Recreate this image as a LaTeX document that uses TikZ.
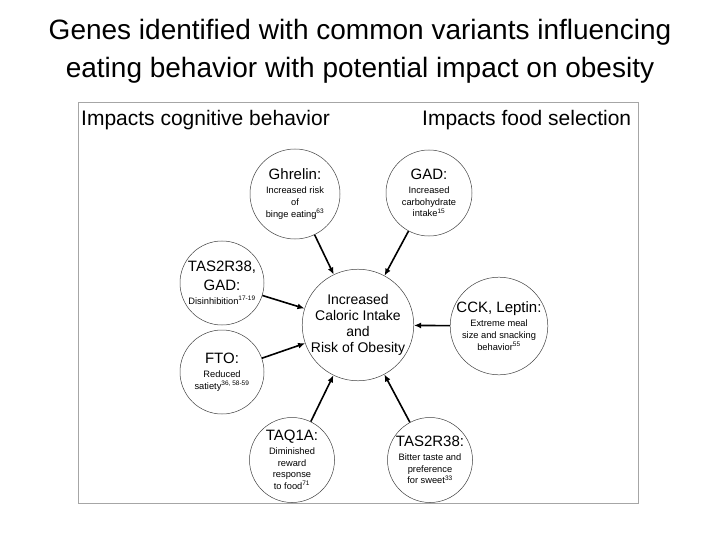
\documentclass[tikz,border=0pt]{standalone}
\usepackage{fontspec}
\setmainfont{Liberation Sans}
\usepackage{tikz}
\usetikzlibrary{arrows.meta}
\tikzset{
  genebox/.style={circle, draw=black!75, line width=0.5pt, inner sep=0pt, align=center,
    minimum size=88pt, font=\fontsize{9.3}{11.8}\selectfont},
  riskbox/.style={genebox, minimum size=110pt, font=\fontsize{14}{15.8}\selectfont},
  genearrow/.style={-{Latex[length=7pt,width=6pt]}, line width=1.6pt},
  headlabel/.style={anchor=west, inner sep=0pt, font=\fontsize{21}{25}\selectfont},
}
\newcommand{\genename}[1]{{\fontsize{15}{17}\selectfont #1}\\[2pt]}

\begin{document}
\begin{tikzpicture}[x=1pt, y=-1pt]
  \useasboundingbox (0,0) rectangle (720,540);
  \node[align=center, font=\fontsize{28}{38}\selectfont] (title) at (360,51)
    {Genes identified with common variants influencing\\eating behavior with potential impact on obesity};
  % frame and headers
  \draw[black!35, line width=1pt] (78,103) rectangle (638,503);
  \node[headlabel] (hcog) at (81,120) {Impacts cognitive behavior};
  \node[headlabel] (hfood) at (422,120) {Impacts food selection};
  % circles
  \node[riskbox] (risk) at (358,325) {Increased\\Caloric Intake\\and\\Risk of Obesity};
  \node[genebox, minimum size=90pt] (ghrelin) at (295,194)
    {\genename{Ghrelin:}Increased risk\\of\\binge eating\textsuperscript{63}};
  \node[genebox, minimum size=86pt] (gad) at (429,193)
    {\genename{GAD:}Increased\\carbohydrate\\intake\textsuperscript{15}};
  \node[genebox, minimum size=84pt] (tasgad) at (222,283)
    {{\fontsize{15}{17}\selectfont TAS2R38,}\\[6pt]\genename{GAD:}Disinhibition\textsuperscript{17-19}};
  \node[genebox, minimum size=84pt] (fto) at (222,372)
    {\genename{FTO:}Reduced\\satiety\textsuperscript{36, 58-59}};
  \node[genebox, minimum size=85pt] (taq) at (292,460)
    {\genename{TAQ1A:}Diminished\\reward\\response\\to food\textsuperscript{71}};
  \node[genebox, minimum size=85pt] (tas) at (430,460)
    {\genename{TAS2R38:}Bitter taste and\\preference\\for sweet\textsuperscript{33}};
  \node[genebox, minimum size=90pt] (cck) at (499,326)
    {\genename{CCK, Leptin:}Extreme meal\\size and snacking\\behavior\textsuperscript{55}};
  % arrows into the centre
  \foreach \g in {ghrelin,gad,tasgad,fto,taq,tas,cck}
    \draw[genearrow] (\g) -- (risk);
\end{tikzpicture}
\end{document}
